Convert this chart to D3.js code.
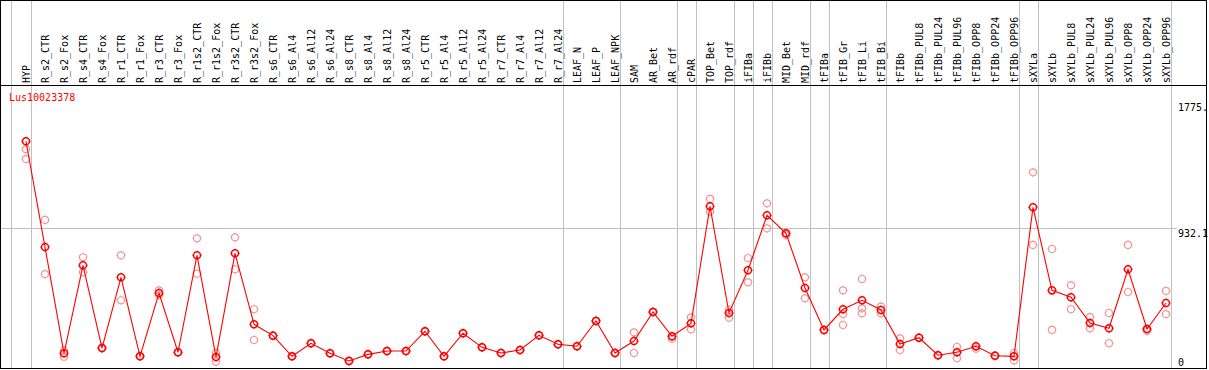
<!DOCTYPE html>
<html><head><meta charset="utf-8">
<script src="https://cdn.jsdelivr.net/npm/d3@7"></script>
<style>
html,body{margin:0;padding:0;background:#fff;}
svg{display:block;}
text{font-family:"DejaVu Sans Mono",monospace;font-size:10px;}
</style></head>
<body>
<svg id="chart" width="1209" height="370"></svg>
<script>
const categories = ["HYP","R_s2_CTR","R_s2_Fox","R_s4_CTR","R_s4_Fox","R_r1_CTR","R_r1_Fox","R_r3_CTR","R_r3_Fox","R_r1s2_CTR","R_r1s2_Fox","R_r3s2_CTR","R_r3s2_Fox","R_s6_CTR","R_s6_Al4","R_s6_Al12","R_s6_Al24","R_s8_CTR","R_s8_Al4","R_s8_Al12","R_s8_Al24","R_r5_CTR","R_r5_Al4","R_r5_Al12","R_r5_Al24","R_r7_CTR","R_r7_Al4","R_r7_Al12","R_r7_Al24","LEAF_N","LEAF_P","LEAF_NPK","SAM","AR_Bet","AR_rdf","cPAR","TOP_Bet","TOP_rdf","iFIBa","iFIBb","MID_Bet","MID_rdf","tFIBa","tFIB_Gr","tFIB_Li","tFIB_Bi","tFIBb","tFIBb_PUL8","tFIBb_PUL24","tFIBb_PUL96","tFIBb_OPP8","tFIBb_OPP24","tFIBb_OPP96","sXYLa","sXYLb","sXYLb_PUL8","sXYLb_PUL24","sXYLb_PUL96","sXYLb_OPP8","sXYLb_OPP24","sXYLb_OPP96"];

const meanValues = [1513,807,98,685,133,605,78,500,105,752,73,765,292,216,78,165,98,47,91,113,113,245,78,232,138,100,120,218,158,145,314,100,180,374,212,298,1079,367,652,1019,899,534,254,392,452,387,160,202,85,105,145,82,78,1072,518,472,300,265,659,260,434];

const repA = [1459,988,115,739,133,752,78,518,105,865,100,872,392,216,78,165,98,47,91,113,113,245,78,232,138,100,120,218,158,145,314,100,238,374,196,338,1128,387,734,1099,887,605,254,518,594,409,198,202,85,140,129,82,100,1306,794,552,340,367,821,247,514];
const repB = [1394,627,75,639,133,452,78,487,105,629,42,659,187,216,78,165,98,47,91,113,113,245,78,232,138,100,120,218,158,145,314,100,100,374,212,258,1043,336,572,932,899,465,254,360,398,365,120,202,85,65,145,82,51,821,254,392,265,165,507,260,360];
const repC = [null,null,null,null,null,null,null,null,null,null,null,null,null,null,null,null,null,null,null,null,null,null,null,null,null,null,null,null,null,null,null,null,null,null,null,null,null,null,null,null,null,null,null,287,365,null,null,null,null,null,null,null,null,null,null,null,null,null,null,null,null];

const groupEnds = ["HYP","R_r7_Al24","LEAF_NPK","AR_rdf","cPAR","TOP_rdf","iFIBa","iFIBb","MID_rdf","tFIBa","tFIB_Bi","tFIBb_OPP96","sXYLa","sXYLb_OPP96"];
const tickValues = [0, 932.1, 1775];
const tickLabels = ["0", "932.1", "1775."];
const geneLabel = "Lus10023378";

const svg = d3.select("#chart");
const x = d3.scalePoint().domain(categories).range([26, 1166]);
const y = d3.scaleLinear().domain([0, 1775]).range([368, 102]);

const grey = "#c0c0c0";
const sepX = [x(categories[0]) - 15].concat(groupEnds.map(c => x(c) + 4.7));
svg.selectAll("line.sep").data(sepX).enter().append("line")
  .attr("x1", d => Math.round(d) + 0.5).attr("x2", d => Math.round(d) + 0.5)
  .attr("y1", 0).attr("y2", 368).attr("stroke", grey).attr("stroke-width", 1);

svg.append("line").attr("x1", 0).attr("x2", 1177)
  .attr("y1", Math.round(y(tickValues[1])) + 0.5).attr("y2", Math.round(y(tickValues[1])) + 0.5)
  .attr("stroke", grey).attr("stroke-width", 1);

svg.append("line").attr("x1", 0).attr("x2", 1207).attr("y1", 85.5).attr("y2", 85.5)
  .attr("stroke", "#000").attr("stroke-width", 1);

svg.selectAll("text.cat").data(categories).enter().append("text")
  .attr("transform", d => `translate(${x(d)},83) rotate(-90)`)
  .attr("dy", "0.35em").attr("text-anchor", "start").attr("fill", "#000")
  .text(d => d);

svg.append("text").attr("x", 9).attr("y", 101).attr("fill", "#ff0000").text(geneLabel);

svg.selectAll("text.tick").data(tickValues).enter().append("text")
  .attr("x", 1178)
  .attr("y", (d, i) => i === 0 ? y(d) - 2 : y(d) + 8.5)
  .attr("fill", "#000")
  .text((d, i) => tickLabels[i]);

const pink = "#ee9a9a";
function marker(g, cx, cy, color, sw) {
  g.append("circle").attr("cx", cx).attr("cy", cy).attr("r", 3.5)
    .attr("fill", "none").attr("stroke", color).attr("stroke-width", sw);
  g.append("path").attr("d",
    `M${cx},${cy-4.6}V${cy-3.5}M${cx},${cy+3.5}V${cy+4.6}M${cx-4.6},${cy}H${cx-3.5}M${cx+3.5},${cy}H${cx+4.6}`)
    .attr("stroke", color).attr("stroke-width", 1);
}

const gRep = svg.append("g");
[repA, repB, repC].forEach(arr => {
  arr.forEach((v, i) => {
    if (v === null) return;
    marker(gRep, x(categories[i]), y(v), pink, 1.2);
  });
});

const line = d3.line().x((d, i) => x(categories[i])).y(d => y(d));
svg.append("path").datum(meanValues).attr("d", line)
  .attr("fill", "none").attr("stroke", "#ff0000").attr("stroke-width", 1.1);

const gMain = svg.append("g");
meanValues.forEach((v, i) => marker(gMain, x(categories[i]), y(v), "#ff0000", 1.5));

svg.append("rect").attr("x", 0.5).attr("y", 0.5).attr("width", 1206).attr("height", 368)
  .attr("fill", "none").attr("stroke", "#000").attr("stroke-width", 1);
</script>
</body></html>
